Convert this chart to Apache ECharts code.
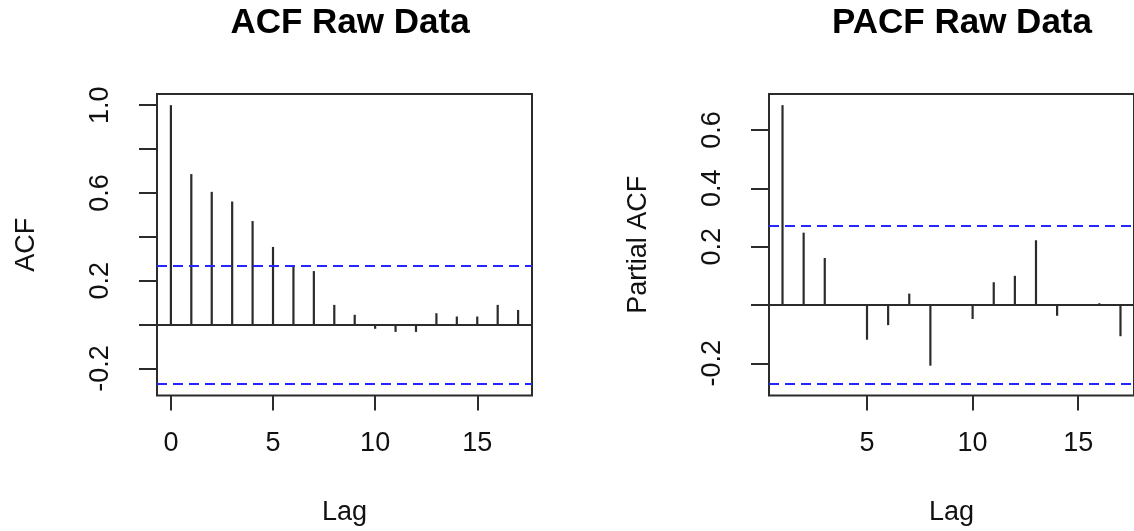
<!DOCTYPE html>
<html>
<head>
<meta charset="utf-8">
<script src="https://cdn.jsdelivr.net/npm/echarts@6/dist/echarts.min.js"></script>
<style>
  html, body { margin: 0; padding: 0; background: #fff; }
  #main { width: 1134px; height: 531px; }
</style>
</head>
<body>
<div id="main"></div>
<script>
// acf / pacf values
var acfLags = [0, 1, 2, 3, 4, 5, 6, 7, 8, 9, 10, 11, 12, 13, 14, 15, 16, 17]
var acfValues = [1.0, 0.686, 0.605, 0.561, 0.472, 0.354, 0.271, 0.244, 0.090, 0.045, -0.019, -0.033, -0.033, 0.052, 0.037, 0.037, 0.090, 0.067]
var pacfLags = [1, 2, 3, 4, 5, 6, 7, 8, 9, 10, 11, 12, 13, 14, 15, 16, 17]
var pacfValues = [0.685, 0.248, 0.161, 0.002, -0.119, -0.069, 0.039, -0.208, -0.003, -0.048, 0.078, 0.100, 0.222, -0.037, 0.001, 0.006, -0.107]
var ciBound = 0.272 // 1.96 / sqrt(n)

var acfYTicks = [-0.2, 0, 0.2, 0.4, 0.6, 0.8, 1.0]
var acfYLabels = [-0.2, 0.2, 0.6, 1.0]
var pacfYTicks = [-0.2, 0, 0.2, 0.4, 0.6]
var pacfYLabels = [-0.2, 0.2, 0.4, 0.6]
var acfXTicks = [0, 5, 10, 15]
var pacfXTicks = [5, 10, 15]

var FONT = '"Liberation Sans", Arial, sans-serif'
var INK = '#2b2b2b'

// R pads plot ranges by 4% on each side
function padRange(lo, hi) {
  var d = (hi - lo) * 0.04
  return [lo - d, hi + d]
}

function pairs(xs, ys) {
  return xs.map(function(x, i) { return [x, ys[i]] })
}

function renderSpike(params, api) {
  var p0 = api.coord([api.value(0), 0])
  var p1 = api.coord([api.value(0), api.value(1)])
  return {
    type: 'line',
    shape: { x1: p0[0], y1: p0[1], x2: p1[0], y2: p1[1] },
    style: { stroke: INK, lineWidth: 2.2 }
  }
}

function refLines() {
  var blue = { type: [10, 6], color: '#2626ff', width: 2 }
  return {
    silent: true,
    symbol: 'none',
    label: { show: false },
    animation: false,
    data: [
      { yAxis: 0, lineStyle: { type: 'solid', color: INK, width: 2 } },
      { yAxis: ciBound, lineStyle: blue },
      { yAxis: -ciBound, lineStyle: blue }
    ]
  }
}

function xAxisFor(idx, range, ticks) {
  return {
    type: 'value',
    gridIndex: idx,
    min: range[0],
    max: range[1],
    axisLine: { show: false, onZero: false },
    splitLine: { show: false },
    axisTick: { length: 15, customValues: ticks, lineStyle: { color: INK, width: 2 } },
    axisLabel: {
      customValues: ticks,
      margin: 48,
      verticalAlign: 'middle',
      fontFamily: FONT,
      fontSize: 27,
      color: '#111'
    },
    name: 'Lag',
    nameLocation: 'middle',
    nameGap: 117,
    nameTextStyle: { fontFamily: FONT, fontSize: 27, color: '#111', verticalAlign: 'middle' }
  }
}

function yAxisFor(idx, range, ticks, labels, title) {
  return {
    type: 'value',
    gridIndex: idx,
    min: range[0],
    max: range[1],
    axisLine: { show: false, onZero: false },
    splitLine: { show: false },
    axisTick: { length: 18, customValues: ticks, lineStyle: { color: INK, width: 2 } },
    axisLabel: {
      customValues: labels,
      rotate: 90,
      margin: 56,
      verticalAlign: 'middle',
      fontFamily: FONT,
      fontSize: 27,
      color: '#111',
      formatter: function(v) { return v.toFixed(1) }
    },
    name: title,
    nameLocation: 'middle',
    nameGap: 130,
    nameTextStyle: { fontFamily: FONT, fontSize: 27, color: '#111', verticalAlign: 'middle' }
  }
}

var acfY = padRange(Math.min(-ciBound, Math.min.apply(null, acfValues)), Math.max(ciBound, Math.max.apply(null, acfValues)))
var pacfY = padRange(Math.min(-ciBound, Math.min.apply(null, pacfValues)), Math.max(ciBound, Math.max.apply(null, pacfValues)))
var acfX = padRange(acfLags[0], acfLags[acfLags.length - 1])
var pacfX = padRange(pacfLags[0], pacfLags[pacfLags.length - 1])

var chart = echarts.init(document.getElementById('main'))
chart.setOption({
  backgroundColor: '#fff',
  animation: false,
  title: [
    {
      text: 'ACF Raw Data', left: 345, top: 1, textAlign: 'center',
      textStyle: { fontFamily: FONT, fontSize: 35, fontWeight: 'bold', color: '#000' }
    },
    {
      text: 'PACF Raw Data', left: 957, top: 1, textAlign: 'center',
      textStyle: { fontFamily: FONT, fontSize: 35, fontWeight: 'bold', color: '#000' }
    }
  ],
  grid: [
    { left: 157, top: 94, width: 375, height: 307, show: true, borderColor: INK, borderWidth: 2, backgroundColor: 'transparent' },
    { left: 769, top: 94, width: 376, height: 307, show: true, borderColor: INK, borderWidth: 2, backgroundColor: 'transparent' }
  ],
  xAxis: [
    xAxisFor(0, acfX, acfXTicks),
    xAxisFor(1, pacfX, pacfXTicks)
  ],
  yAxis: [
    yAxisFor(0, acfY, acfYTicks, acfYLabels, 'ACF'),
    yAxisFor(1, pacfY, pacfYTicks, pacfYLabels, 'Partial ACF')
  ],
  series: [
    {
      type: 'custom',
      xAxisIndex: 0,
      yAxisIndex: 0,
      renderItem: renderSpike,
      encode: { x: 0, y: 1 },
      data: pairs(acfLags, acfValues),
      markLine: refLines()
    },
    {
      type: 'custom',
      xAxisIndex: 1,
      yAxisIndex: 1,
      renderItem: renderSpike,
      encode: { x: 0, y: 1 },
      data: pairs(pacfLags, pacfValues),
      markLine: refLines()
    }
  ]
})
</script>
</body>
</html>
